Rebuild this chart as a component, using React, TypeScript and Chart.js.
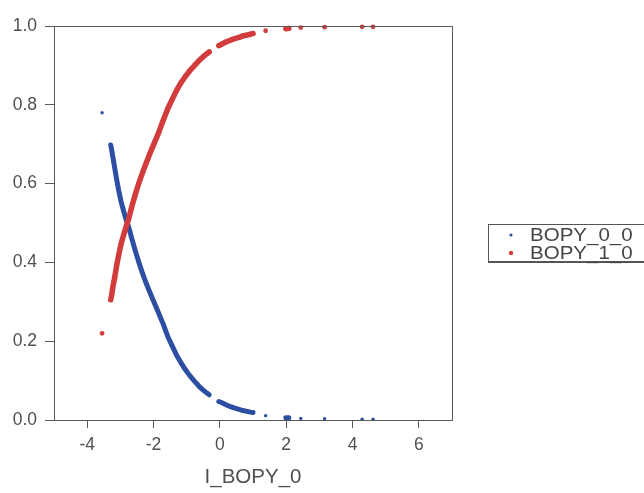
import { useEffect, useRef } from "react";
import { Chart, registerables } from "chart.js";

Chart.register(...registerables);

// Index values shared by both probability series
const xValues = [
  -3.55, -3.29, -3.26, -3.22, -3.17, -3.11, -3.05, -2.98, -2.9, -2.82, -2.75, -2.66,
  -2.55, -2.44, -2.33, -2.22, -2.1, -1.98, -1.85, -1.71, -1.57, -1.43, -1.3, -1.17,
  -1.04, -0.9, -0.76, -0.62, -0.5, -0.4, -0.32, -0.03, 0.08, 0.2, 0.32, 0.45,
  0.58, 0.7, 0.82, 0.92, 1.0, 1.38, 1.99, 2.08, 2.44, 3.16, 4.29, 4.62,
];

// Probability of outcome 0
const prob0 = [
  0.78, 0.698, 0.685, 0.665, 0.64, 0.61, 0.583, 0.555, 0.53, 0.507, 0.49, 0.462,
  0.43, 0.4, 0.372, 0.347, 0.322, 0.298, 0.272, 0.244, 0.212, 0.187, 0.164, 0.145,
  0.128, 0.112, 0.098, 0.085, 0.076, 0.069, 0.064, 0.047, 0.043, 0.038, 0.034, 0.03,
  0.027, 0.024, 0.022, 0.02, 0.019, 0.011, 0.006, 0.006, 0.004, 0.003, 0.002, 0.002,
];

// Probability of outcome 1
const prob1 = [
  0.22, 0.305, 0.318, 0.34, 0.362, 0.392, 0.418, 0.446, 0.47, 0.492, 0.51, 0.54,
  0.572, 0.602, 0.628, 0.652, 0.678, 0.702, 0.728, 0.76, 0.79, 0.815, 0.837, 0.856,
  0.872, 0.887, 0.9, 0.913, 0.922, 0.929, 0.934, 0.95, 0.955, 0.96, 0.964, 0.968,
  0.971, 0.975, 0.977, 0.979, 0.981, 0.988, 0.993, 0.994, 0.996, 0.997, 0.998, 0.998,
];

const seriesLabels = ["BOPY_0_0", "BOPY_1_0"];
const seriesColors = ["#2c4ea3", "#d23c3c"];
const xTicks = [-4, -2, 0, 2, 4, 6];
const yTicks = [0, 0.2, 0.4, 0.6, 0.8, 1.0];
const xTitle = "I_BOPY_0";

const FONT = "'Liberation Sans', Arial, sans-serif";
const AXIS_GREY = "#5a5a5a";
const TEXT_GREY = "#505050";

// Only connect neighbouring observations; wider gaps stay as separate dots
const gapSegment = (ctx: any) =>
  Math.abs(ctx.p1.parsed.x - ctx.p0.parsed.x) > 0.2 ? "rgba(0,0,0,0)" : undefined;

const framePlugin = {
  id: "frame",
  afterDraw(chart: any) {
    const { ctx, chartArea } = chart;
    ctx.save();
    ctx.strokeStyle = AXIS_GREY;
    ctx.lineWidth = 1;
    ctx.strokeRect(
      Math.round(chartArea.left) + 0.5,
      Math.round(chartArea.top) + 0.5,
      Math.round(chartArea.right - chartArea.left),
      Math.round(chartArea.bottom - chartArea.top)
    );
    ctx.restore();
  },
};

const boxLegendPlugin = {
  id: "boxLegend",
  afterDraw(chart: any) {
    const { ctx } = chart;
    const left = 488;
    const top = 224;
    const width = 170;
    const height = 37;
    ctx.save();
    ctx.fillStyle = "#ffffff";
    ctx.fillRect(left, top, width, height);
    ctx.strokeStyle = "#555555";
    ctx.lineWidth = 1;
    ctx.strokeRect(left + 0.5, top + 0.5, width, height);
    ctx.beginPath();
    ctx.moveTo(left, top + height + 1.5);
    ctx.lineTo(left + width, top + height + 1.5);
    ctx.stroke();
    ctx.textBaseline = "middle";
    ctx.textAlign = "left";
    const radii = [1.6, 2.2];
    seriesLabels.forEach((label, i) => {
      const cy = top + 11 + i * 18;
      ctx.fillStyle = seriesColors[i];
      ctx.beginPath();
      ctx.arc(511, cy, radii[i], 0, Math.PI * 2);
      ctx.fill();
      ctx.save();
      ctx.translate(530, cy + 1);
      ctx.scale(1.08, 1);
      ctx.font = `19px ${FONT}`;
      ctx.fillStyle = "#444444";
      ctx.fillText(label, 0, 0);
      ctx.restore();
    });
    ctx.restore();
  },
};

export default function App() {
  const canvasRef = useRef<HTMLCanvasElement | null>(null);

  useEffect(() => {
    if (!canvasRef.current) return;
    const toPoints = (vals: number[]) => xValues.map((x, i) => ({ x, y: vals[i] }));

    const chart = new Chart(canvasRef.current, {
      type: "scatter",
      data: {
        datasets: [
          {
            label: seriesLabels[0],
            data: toPoints(prob0),
            showLine: true,
            borderColor: seriesColors[0],
            backgroundColor: seriesColors[0],
            borderWidth: 5,
            borderCapStyle: "round",
            borderJoinStyle: "round",
            pointRadius: 1.7,
            pointBorderWidth: 0,
            pointHoverRadius: 1.7,
            segment: { borderColor: gapSegment },
            clip: 6,
            order: 1,
          },
          {
            label: seriesLabels[1],
            data: toPoints(prob1),
            showLine: true,
            borderColor: seriesColors[1],
            backgroundColor: seriesColors[1],
            borderWidth: 5.5,
            borderCapStyle: "round",
            borderJoinStyle: "round",
            pointRadius: 2.4,
            pointBorderWidth: 0,
            pointHoverRadius: 2.4,
            segment: { borderColor: gapSegment },
            clip: 6,
            order: 0,
          },
        ],
      },
      options: {
        responsive: false,
        animation: false,
        devicePixelRatio: 1,
        events: [],
        layout: { padding: { top: 26, right: 192, left: 0, bottom: 0 } },
        plugins: {
          legend: { display: false },
          tooltip: { enabled: false },
        },
        scales: {
          x: {
            type: "linear",
            min: -5,
            max: 7,
            afterBuildTicks: (scale: any) => {
              scale.ticks = xTicks.map((v) => ({ value: v }));
            },
            afterFit: (scale: any) => {
              scale.height = 73;
            },
            grid: {
              drawOnChartArea: false,
              drawTicks: true,
              tickLength: 8,
              tickColor: AXIS_GREY,
            },
            border: { display: false },
            ticks: {
              padding: 7,
              color: TEXT_GREY,
              font: { family: FONT, size: 17.5 },
              maxRotation: 0,
              callback: (v: any) => String(v),
            },
            title: {
              display: true,
              text: xTitle,
              color: TEXT_GREY,
              font: { family: FONT, size: 20.5 },
              padding: { top: 0, bottom: 3 },
            },
          },
          y: {
            type: "linear",
            min: 0,
            max: 1,
            afterBuildTicks: (scale: any) => {
              scale.ticks = yTicks.map((v) => ({ value: v }));
            },
            afterFit: (scale: any) => {
              scale.width = 54;
            },
            grid: {
              drawOnChartArea: false,
              drawTicks: true,
              tickLength: 9,
              tickColor: AXIS_GREY,
            },
            border: { display: false },
            ticks: {
              padding: 8,
              color: TEXT_GREY,
              font: { family: FONT, size: 17.5 },
              callback: (v: any) => Number(v).toFixed(1),
            },
          },
        },
      },
      plugins: [framePlugin, boxLegendPlugin],
    });

    return () => chart.destroy();
  }, []);

  return (
    <div style={{ position: "fixed", left: 0, top: 0, width: 644, height: 493, background: "#fff" }}>
      <canvas ref={canvasRef} width={644} height={493} />
    </div>
  );
}
